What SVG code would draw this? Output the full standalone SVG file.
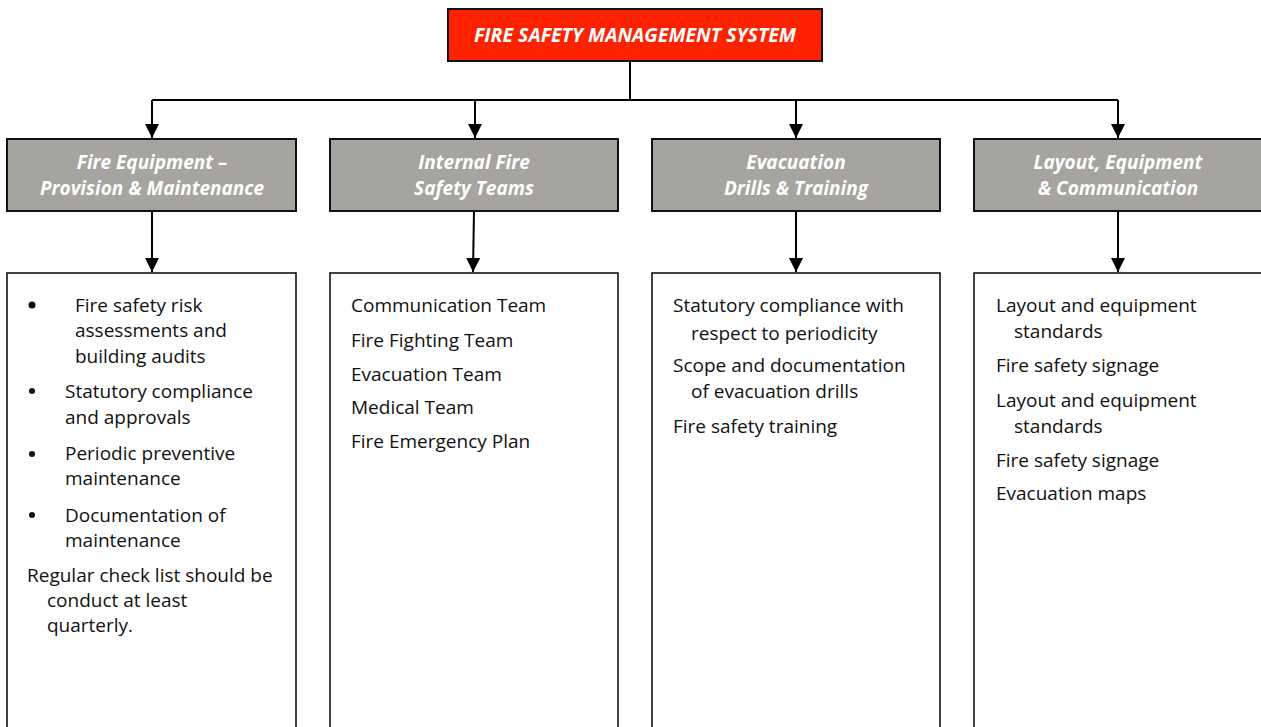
<svg xmlns="http://www.w3.org/2000/svg" width="1261" height="727" viewBox="0 0 1261 727">
<defs>
<marker id="ah" markerWidth="14" markerHeight="14" viewBox="0 0 14 14" refX="14" refY="7" orient="auto" markerUnits="userSpaceOnUse">
<path d="M0,0 L14,7 L0,14 Z" fill="#000"/>
</marker>
<style>
.title{fill:#FF2200;stroke:#111;stroke-width:2}
.head{fill:#A6A49E;stroke:#111;stroke-width:2}
.body{fill:#fff;stroke:#111;stroke-width:1.6}
.ht{font-family:"Open Sans",Lato,sans-serif;font-weight:bold;font-style:italic;font-size:19px;fill:#fff;text-anchor:middle}
.bt{font-family:"Open Sans",Lato,sans-serif;font-size:19px;fill:#111}
.con{stroke:#000;stroke-width:2;fill:none}
</style>
</defs>
<rect width="1261" height="727" fill="#fff"/>
<g id="connectors">
<path class="con" d="M630,61 V100 M152,100 H1118"/>
<path class="con" d="M152,100 V138" marker-end="url(#ah)"/>
<path class="con" d="M475,100 V138" marker-end="url(#ah)"/>
<path class="con" d="M796,100 V138" marker-end="url(#ah)"/>
<path class="con" d="M1118,100 V138" marker-end="url(#ah)"/>
<path class="con" d="M152,211 V272" marker-end="url(#ah)"/>
<path class="con" d="M474,211 L473,272" marker-end="url(#ah)"/>
<path class="con" d="M796,211 V272" marker-end="url(#ah)"/>
<path class="con" d="M1118,211 V272" marker-end="url(#ah)"/>
</g>
<g id="root">
<rect class="title" x="448" y="9" width="374" height="52"/>
<text class="ht" x="635" y="42" style="font-size:19.5px">FIRE SAFETY MANAGEMENT SYSTEM</text>
</g>
<g id="h1">
<rect class="head" x="7" y="139" width="289" height="72"/>
<text class="ht" x="152" y="169">Fire Equipment –</text>
<text class="ht" x="152" y="195">Provision &amp; Maintenance</text>
</g>
<g id="h2">
<rect class="head" x="330" y="139" width="288" height="72"/>
<text class="ht" x="474" y="169">Internal Fire</text>
<text class="ht" x="474" y="195">Safety Teams</text>
</g>
<g id="h3">
<rect class="head" x="652" y="139" width="288" height="72"/>
<text class="ht" x="796" y="169">Evacuation</text>
<text class="ht" x="796" y="195">Drills &amp; Training</text>
</g>
<g id="h4">
<rect class="head" x="974" y="139" width="300" height="72"/>
<text class="ht" x="1118" y="169">Layout, Equipment</text>
<text class="ht" x="1118" y="195">&amp; Communication</text>
</g>
<g id="b1">
<rect class="body" x="7" y="273" width="289" height="470"/>
<circle cx="32" cy="305" r="3.5" fill="#111"/>
<circle cx="32" cy="391" r="3" fill="#111"/>
<circle cx="32" cy="454" r="3" fill="#111"/>
<circle cx="32" cy="515" r="3" fill="#111"/>
<text class="bt" x="75" y="312">Fire safety risk</text>
<text class="bt" x="75" y="337">assessments and</text>
<text class="bt" x="75" y="363">building audits</text>
<text class="bt" x="65" y="398">Statutory compliance</text>
<text class="bt" x="65" y="424">and approvals</text>
<text class="bt" x="65" y="460">Periodic preventive</text>
<text class="bt" x="65" y="485">maintenance</text>
<text class="bt" x="65" y="522">Documentation of</text>
<text class="bt" x="65" y="547">maintenance</text>
<text class="bt" x="27" y="582">Regular check list should be</text>
<text class="bt" x="47" y="607">conduct at least</text>
<text class="bt" x="47" y="632">quarterly.</text>
</g>
<g id="b2">
<rect class="body" x="330" y="273" width="288" height="470"/>
<text class="bt" x="351" y="312">Communication Team</text>
<text class="bt" x="351" y="347">Fire Fighting Team</text>
<text class="bt" x="351" y="381">Evacuation Team</text>
<text class="bt" x="351" y="414">Medical Team</text>
<text class="bt" x="351" y="448">Fire Emergency Plan</text>
</g>
<g id="b3">
<rect class="body" x="652" y="273" width="288" height="470"/>
<text class="bt" x="673" y="312">Statutory compliance with</text>
<text class="bt" x="691" y="340">respect to periodicity</text>
<text class="bt" x="673" y="372">Scope and documentation</text>
<text class="bt" x="691" y="398">of evacuation drills</text>
<text class="bt" x="673" y="433">Fire safety training</text>
</g>
<g id="b4">
<rect class="body" x="974" y="273" width="300" height="470"/>
<text class="bt" x="996" y="312">Layout and equipment</text>
<text class="bt" x="1014" y="338">standards</text>
<text class="bt" x="996" y="372">Fire safety signage</text>
<text class="bt" x="996" y="407">Layout and equipment</text>
<text class="bt" x="1014" y="433">standards</text>
<text class="bt" x="996" y="467">Fire safety signage</text>
<text class="bt" x="996" y="500">Evacuation maps</text>
</g>
</svg>
